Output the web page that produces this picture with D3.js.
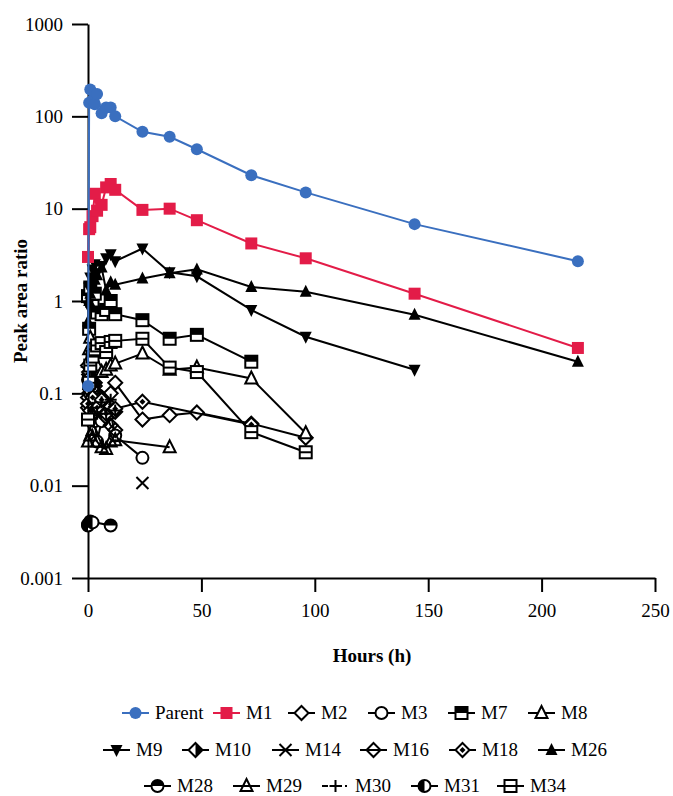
<!DOCTYPE html>
<html>
<head>
  <meta charset="utf-8">
  <title>Peak area ratio</title>
  <script src="https://d3js.org/d3.v7.min.js"></script>
  <style>
    body { margin: 0; background: #fff; }
    svg, svg text { font-family: "Liberation Serif", "Times New Roman", "DejaVu Serif", serif; fill: #000; }
    .axis path, .axis line { stroke: #000; stroke-width: 2px; fill: none; }
    .axis text { font-size: 19px; font-family: "Liberation Serif", "Times New Roman", serif; }
  </style>
</head>
<body>
  <div id="chart"></div>
  <script>
    // Data (hours, peak area ratio)
    const parent = [[0,0.12],[0.5,140],[1,195],[2,150],[3,135],[4,175],[6,108],[8,125],[10,125],[12,100],[24,68],[36,60],[48,44],[72,23],[96,15],[144,6.8],[216,2.7]];
    const m1 = [[0,3.0],[0.5,6.0],[1,6.3],[2,8.3],[3,14.5],[4,9.5],[6,11],[8,17],[10,18.5],[12,16],[24,9.7],[36,10],[48,7.5],[72,4.2],[96,2.9],[144,1.2],[216,0.31]];
    const m2 = [[0,0.09],[0.5,0.16],[1,0.11],[2,0.13],[3,0.12],[4,0.08],[6,0.09],[8,0.07],[10,0.1],[12,0.13],[24,0.052],[36,0.058],[48,0.062],[72,0.047],[96,0.033]];
    const m3 = [[0,0.14],[0.5,0.2],[1,0.11],[2,0.09],[3,0.05],[4,0.03],[6,0.05],[8,0.068],[10,0.061],[12,0.035],[24,0.02]];
    const m7 = [[0,1.13],[0.5,0.5],[1,1.4],[2,1.0],[3,1.2],[4,0.75],[6,0.72],[8,0.8],[10,1.0],[12,0.72],[24,0.62],[36,0.39],[48,0.43],[72,0.22]];
    const m8 = [[0,0.22],[0.5,0.3],[1,0.4],[2,0.25],[3,0.28],[4,0.2],[6,0.17],[8,0.18],[10,0.2],[12,0.21],[24,0.27],[36,0.18],[48,0.19],[72,0.145],[96,0.037]];
    const m9 = [[0,0.9],[0.5,1.4],[1,1.8],[2,2.2],[3,2.5],[4,2.0],[6,2.4],[8,2.9],[10,3.2],[12,2.7],[24,3.7],[36,2.05],[48,1.85],[72,0.8],[96,0.41],[144,0.18]];
    const m10 = [[0,0.2],[0.5,0.17],[1,0.15],[2,0.12],[3,0.13],[4,0.1],[6,0.09],[8,0.075],[10,0.07],[12,0.063]];
    const m14 = [[24,0.0107]];
    const m16 = [[0,0.07],[0.5,0.1],[1,0.08],[2,0.06],[4,0.09],[6,0.065],[8,0.055],[10,0.045],[12,0.04]];
    const m18 = [[0,0.077],[1,0.065],[2,0.09],[4,0.07],[6,0.085],[8,0.06],[10,0.072],[12,0.068],[24,0.081],[72,0.046]];
    const m26 = [[0,0.6],[0.5,1.0],[1,1.2],[2,1.5],[3,1.7],[4,1.9],[6,2.3],[8,1.3],[10,1.6],[12,1.5],[24,1.75],[36,2.0],[48,2.2],[72,1.42],[96,1.26],[144,0.71],[216,0.22]];
    const m28 = [[0,0.0038],[1,0.0041],[10,0.0037]];
    const m29 = [[0,0.03],[1,0.035],[2,0.04],[4,0.03],[6,0.026],[8,0.025],[10,0.03],[12,0.031],[36,0.026]];
    const m30 = [[0,0.05],[2,0.07],[4,0.06],[6,0.08],[8,0.06],[10,0.085],[12,0.065]];
    const m31 = [[0,0.0037],[2,0.004]];
    const m34 = [[0,0.052],[0.5,0.13],[1,0.2],[2,0.25],[3,0.3],[4,0.33],[6,0.35],[8,0.28],[10,0.36],[12,0.37],[24,0.39],[36,0.19],[48,0.17],[72,0.038],[96,0.023]];

    const seriesNames = ["Parent","M1","M2","M3","M7","M8","M9","M10","M14","M16","M18","M26","M28","M29","M30","M31","M34"];
    const seriesData = [parent,m1,m2,m3,m7,m8,m9,m10,m14,m16,m18,m26,m28,m29,m30,m31,m34];
    const seriesMarkers = ["circle","square","diamondOpen","circleOpen","squareTop","triOpen","triDown","diamondHalf","cross","diamondLine","diamondDot","triFilled","circleTop","triOpen2","plus","circleLeft","squareLine"];

    const xTicks = [0, 50, 100, 150, 200, 250];
    const yTicks = [0.001, 0.01, 0.1, 1, 10, 100, 1000];
    const yTickLabels = ["0.001", "0.01", "0.1", "1", "10", "100", "1000"];

    const blue = "#3a6fbf", red = "#e31c48";
    function colorOf(name) { return name === "Parent" ? blue : name === "M1" ? red : "#000"; }

    const serif = "'Liberation Serif', 'Times New Roman', serif";
    const width = 673, height = 796;
    const svg = d3.select("#chart").append("svg")
      .attr("width", width).attr("height", height)
      .attr("font-family", serif);

    const x = d3.scaleLinear().domain([0, 250]).range([88, 655]);
    const y = d3.scaleLog().domain([0.001, 1000]).range([578, 24]);

    // axes
    svg.append("g").attr("class", "axis")
      .attr("transform", "translate(0,578)")
      .call(d3.axisBottom(x).tickValues(xTicks).tickSize(14).tickSizeOuter(0).tickPadding(12))
      .attr("font-family", serif).attr("font-size", 19);
    svg.append("g").attr("class", "axis")
      .attr("transform", "translate(88,0)")
      .call(d3.axisLeft(y).tickValues(yTicks).tickFormat((d, i) => yTickLabels[i]).tickSize(16).tickSizeOuter(0).tickPadding(9))
      .attr("font-family", serif).attr("font-size", 19);

    svg.append("text").attr("x", 372).attr("y", 662).attr("text-anchor", "middle")
      .style("font-size", "19px").style("font-weight", "bold").text("Hours (h)");
    svg.append("text").attr("transform", "translate(27,301) rotate(-90)").attr("text-anchor", "middle")
      .style("font-size", "19px").style("font-weight", "bold").text("Peak area ratio");

    // marker drawing
    const r = 6;
    const diamond = s => `M0,${-s}L${s},0L0,${s}L${-s},0Z`;
    function drawMarker(g, type, color) {
      const sw = 2;
      switch (type) {
        case "circle":
          g.append("circle").attr("r", 6).attr("fill", color); break;
        case "square":
          g.append("rect").attr("x", -6).attr("y", -6).attr("width", 12).attr("height", 12).attr("fill", color); break;
        case "diamondOpen":
          g.append("path").attr("d", diamond(r + 1)).attr("fill", "#fff").attr("stroke", color).attr("stroke-width", sw); break;
        case "circleOpen":
          g.append("circle").attr("r", r).attr("fill", "#fff").attr("stroke", color).attr("stroke-width", sw); break;
        case "squareTop":
          g.append("rect").attr("x", -r).attr("y", -r).attr("width", 2 * r).attr("height", 2 * r).attr("fill", "#fff").attr("stroke", color).attr("stroke-width", sw);
          g.append("rect").attr("x", -r).attr("y", -r).attr("width", 2 * r).attr("height", r).attr("fill", color); break;
        case "triOpen":
          g.append("path").attr("d", `M0,${-r - 1}L${r},${r - 1}L${-r},${r - 1}Z`).attr("fill", "#fff").attr("stroke", color).attr("stroke-width", sw); break;
        case "triOpen2":
          g.append("path").attr("d", `M0,${-r - 1}L${r},${r - 1}L${-r},${r - 1}Z`).attr("fill", "none").attr("stroke", color).attr("stroke-width", sw); break;
        case "triDown":
          g.append("path").attr("d", `M${-r},${-r + 1}L${r},${-r + 1}L0,${r + 1}Z`).attr("fill", color); break;
        case "triFilled":
          g.append("path").attr("d", `M0,${-r - 1}L${r},${r - 1}L${-r},${r - 1}Z`).attr("fill", color); break;
        case "diamondHalf":
          g.append("path").attr("d", diamond(r + 1)).attr("fill", "#fff").attr("stroke", color).attr("stroke-width", sw);
          g.append("path").attr("d", `M0,${-r - 1}L${r + 1},0L0,${r + 1}Z`).attr("fill", color); break;
        case "cross":
          g.append("path").attr("d", `M${-r},${-r}L${r},${r}M${r},${-r}L${-r},${r}`).attr("stroke", color).attr("stroke-width", sw); break;
        case "diamondLine":
          g.append("path").attr("d", diamond(r + 1)).attr("fill", "none").attr("stroke", color).attr("stroke-width", sw); break;
        case "diamondDot":
          g.append("path").attr("d", diamond(r + 1)).attr("fill", "#fff").attr("stroke", color).attr("stroke-width", sw);
          g.append("path").attr("d", diamond(3)).attr("fill", color); break;
        case "circleTop":
          g.append("circle").attr("r", r).attr("fill", "#fff").attr("stroke", color).attr("stroke-width", sw);
          g.append("path").attr("d", `M${-r},0A${r},${r} 0 0 1 ${r},0Z`).attr("fill", color); break;
        case "circleLeft":
          g.append("circle").attr("r", r).attr("fill", "#fff").attr("stroke", color).attr("stroke-width", sw);
          g.append("path").attr("d", `M0,${-r}A${r},${r} 0 0 0 0,${r}Z`).attr("fill", color); break;
        case "plus":
          g.append("path").attr("d", `M${-r},0L${r},0M0,${-r}L0,${r}`).attr("stroke", color).attr("stroke-width", sw); break;
        case "squareLine":
          g.append("rect").attr("x", -r).attr("y", -r).attr("width", 2 * r).attr("height", 2 * r).attr("fill", "#fff").attr("stroke", color).attr("stroke-width", sw);
          g.append("line").attr("x1", -r).attr("x2", r).attr("stroke", color).attr("stroke-width", sw); break;
      }
    }

    const line = d3.line().x(d => x(d[0])).y(d => y(d[1]));
    const plot = svg.append("g");

    // black series first, then M1, then Parent on top
    const order = d3.range(2, seriesNames.length).concat([1, 0]);
    order.forEach(i => {
      const name = seriesNames[i], color = colorOf(name);
      const g = plot.append("g");
      g.append("path").datum(seriesData[i]).attr("d", line)
        .attr("fill", "none").attr("stroke", color).attr("stroke-width", 2)
        .attr("stroke-dasharray", name === "M30" ? "6,3,2,3" : null);
      seriesData[i].forEach(d => {
        drawMarker(g.append("g").attr("transform", `translate(${x(d[0])},${y(d[1])})`), seriesMarkers[i], color);
      });
    });

    // legend
    const legendRowY = [713, 750, 786];
    const legendRowItems = [[0, 1, 2, 3, 4, 5], [6, 7, 8, 9, 10, 11], [12, 13, 14, 15, 16]];
    const legendRowX = [[122, 213, 288, 368, 448, 528], [103, 182, 272, 360, 449, 538], [144, 233, 322, 411, 497]];
    legendRowItems.forEach((items, row) => {
      items.forEach((i, k) => {
        const x0 = legendRowX[row][k], yy = legendRowY[row];
        const name = seriesNames[i], color = colorOf(name);
        const g = svg.append("g");
        g.append("line").attr("x1", x0).attr("x2", x0 + 27).attr("y1", yy).attr("y2", yy)
          .attr("stroke", color).attr("stroke-width", 2)
          .attr("stroke-dasharray", name === "M30" ? "6,3,2,3" : null);
        drawMarker(g.append("g").attr("transform", `translate(${x0 + 13.5},${yy})`), seriesMarkers[i], color);
        g.append("text").attr("x", x0 + 33).attr("y", yy + 6).style("font-size", "19px").text(name);
      });
    });
  </script>
</body>
</html>
